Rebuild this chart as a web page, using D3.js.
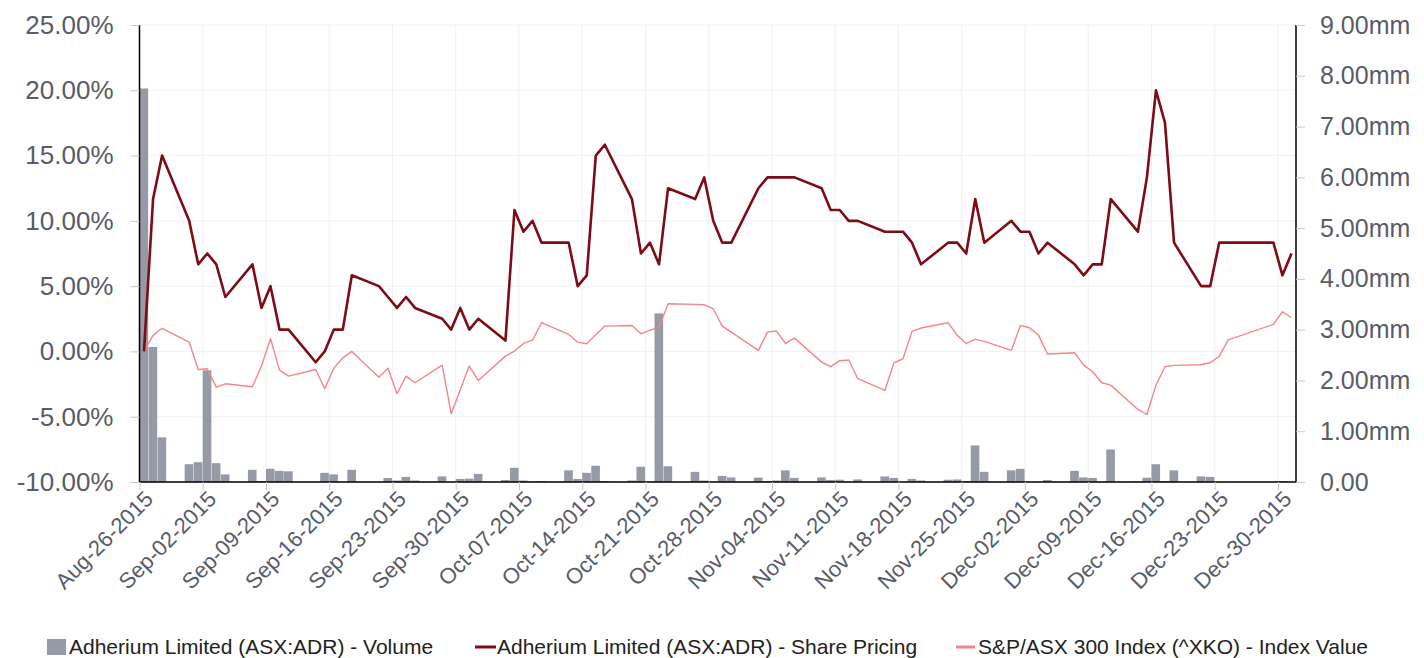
<!DOCTYPE html>
<html>
<head>
<meta charset="utf-8">
<script src="https://cdn.jsdelivr.net/npm/d3@7"></script>
<style>
  body { margin: 0; background: #fff; }
  text { font-family: "Liberation Sans", Arial, sans-serif; }
</style>
</head>
<body>
<div id="main-container"></div>
<script>

// trading days
var dates = [
  "2015-08-26","2015-08-27","2015-08-28","2015-08-31",
  "2015-09-01","2015-09-02","2015-09-03","2015-09-04","2015-09-07","2015-09-08","2015-09-09","2015-09-10","2015-09-11",
  "2015-09-14","2015-09-15","2015-09-16","2015-09-17","2015-09-18","2015-09-21","2015-09-22","2015-09-23","2015-09-24","2015-09-25",
  "2015-09-28","2015-09-29","2015-09-30",
  "2015-10-01","2015-10-02","2015-10-05","2015-10-06","2015-10-07","2015-10-08","2015-10-09","2015-10-12","2015-10-13","2015-10-14",
  "2015-10-15","2015-10-16","2015-10-19","2015-10-20","2015-10-21","2015-10-22","2015-10-23","2015-10-26","2015-10-27","2015-10-28",
  "2015-10-29","2015-10-30",
  "2015-11-02","2015-11-03","2015-11-04","2015-11-05","2015-11-06","2015-11-09","2015-11-10","2015-11-11","2015-11-12","2015-11-13",
  "2015-11-16","2015-11-17","2015-11-18","2015-11-19","2015-11-20","2015-11-23","2015-11-24","2015-11-25","2015-11-26","2015-11-27",
  "2015-11-30",
  "2015-12-01","2015-12-02","2015-12-03","2015-12-04","2015-12-07","2015-12-08","2015-12-09","2015-12-10","2015-12-11","2015-12-14",
  "2015-12-15","2015-12-16","2015-12-17","2015-12-18","2015-12-21","2015-12-22","2015-12-23","2015-12-24","2015-12-29","2015-12-30",
  "2015-12-31"
];

// Adherium share price, % change
var sharePricing = [
  0, 11.67, 15.0, 10.0,
  6.67, 7.5, 6.67, 4.17, 6.67, 3.33, 5.0, 1.67, 1.67,
  -0.83, 0, 1.67, 1.67, 5.83, 5.0, 4.17, 3.33, 4.17, 3.33,
  2.5, 1.67, 3.33,
  1.67, 2.5, 0.83, 10.83, 9.17, 10.0, 8.33, 8.33, 5.0, 5.83,
  15.0, 15.83, 11.67, 7.5, 8.33, 6.67, 12.5, 11.67, 13.33, 10.0,
  8.33, 8.33,
  12.5, 13.33, 13.33, 13.33, 13.33, 12.5, 10.83, 10.83, 10.0, 10.0,
  9.17, 9.17, 9.17, 8.33, 6.67, 8.33, 8.33, 7.5, 11.67, 8.33,
  10.0,
  9.17, 9.17, 7.5, 8.33, 6.67, 5.83, 6.67, 6.67, 11.67, 9.17,
  13.33, 20.0, 17.5, 8.33, 5.0, 5.0, 8.33, 8.33, 8.33, 5.83,
  7.5
];

// S&P/ASX 300, % change
var indexValue = [
  0, 1.23, 1.77, 0.71,
  -1.38, -1.33, -2.73, -2.48, -2.71, -1.12, 0.97, -1.43, -1.89,
  -1.38, -2.86, -1.30, -0.49, 0.0, -1.97, -1.28, -3.24, -1.89, -2.40,
  -1.05, -4.77, -2.94,
  -1.12, -2.22, -0.36, 0.03, 0.61, 0.87, 2.20, 1.30, 0.71, 0.59,
  1.28, 1.94, 1.99, 1.35, 1.63, 1.86, 3.65, 3.60, 3.57, 3.27,
  1.94, 1.48,
  0.08, 1.48, 1.56, 0.61, 1.02, -0.82, -1.17, -0.71, -0.66, -2.09,
  -2.99, -0.87, -0.56, 1.53, 1.79, 2.20, 1.23, 0.61, 0.92, 0.77,
  0.08,
  1.99, 1.81, 1.25, -0.20, -0.10, -1.05, -1.56, -2.40, -2.58, -4.44,
  -4.83, -2.58, -1.17, -1.07, -1.02, -0.87, -0.38, 0.89, 2.07, 3.04,
  2.58
];

// volume, millions
var volume = [
  7.75, 2.66, 0.88, 0.35,
  0.39, 2.2, 0.37, 0.15, 0.24, 0.02, 0.26, 0.22, 0.21,
  0, 0.18, 0.15, 0, 0.24, 0, 0.08, 0.03, 0.1, 0.03,
  0.11, 0, 0.06,
  0.066, 0.16, 0.04, 0.28, 0.03, 0.01, 0.02, 0.23, 0.06, 0.18,
  0.32, 0.02, 0.03, 0.30, 0.01, 3.32, 0.31, 0.2, 0.03, 0,
  0.12, 0.09,
  0.085, 0.02, 0.03, 0.23, 0.08, 0.09, 0.04, 0.045, 0, 0.05,
  0.11, 0.08, 0, 0.06, 0.03, 0.045, 0.05, 0.02, 0.72, 0.2,
  0.23,
  0.26, 0, 0, 0.04, 0.22, 0.09, 0.08, 0, 0.64, 0.01,
  0.085, 0.35, 0.02, 0.23, 0.11, 0.1, 0, 0, 0, 0.02,
  0
];

var pctTicks = [-10, -5, 0, 5, 10, 15, 20, 25];
var volTicks = [0, 1, 2, 3, 4, 5, 6, 7, 8, 9];

var legendLabels = [
  "Adherium Limited (ASX:ADR) - Volume",
  "Adherium Limited (ASX:ADR) - Share Pricing",
  "S&P/ASX 300 Index (^XKO) - Index Value"
];

var width = 1424, height = 658;
var margin = { top: 25, right: 128, bottom: 176, left: 139.5 };
var textColor = "#595c68";
var barColor = "#969aa6";
var shareColor = "#7d0c16";
var indexColor = "#f4868b";

var parse = d3.utcParse("%Y-%m-%d");
var days = dates.map(parse);

var svg = d3.select("#main-container")
            .append("svg")
            .attr("width", width)
            .attr("height", height);

var x = d3.scaleUtc()
          .domain([parse("2015-08-26"), parse("2016-01-01")])
          .range([margin.left, width - margin.right]);

var yPct = d3.scaleLinear().domain([-10, 25]).range([height - margin.bottom, margin.top]);
var yVol = d3.scaleLinear().domain([0, 9]).range([height - margin.bottom, margin.top]);

var xTicks = d3.utcWednesday.range(parse("2015-08-26"), parse("2016-01-01"));
var bottom = height - margin.bottom;

// grid
svg.append("g")
   .selectAll("line.h")
   .data(pctTicks)
   .enter()
   .append("line")
   .attr("x1", margin.left).attr("x2", width - margin.right)
   .attr("y1", function(d) { return yPct(d); })
   .attr("y2", function(d) { return yPct(d); })
   .attr("stroke", "#f1f1f3");

svg.append("g")
   .selectAll("line.v")
   .data(xTicks)
   .enter()
   .append("line")
   .attr("y1", margin.top).attr("y2", bottom)
   .attr("x1", function(d) { return x(d); })
   .attr("x2", function(d) { return x(d); })
   .attr("stroke", "#f1f1f3");

// volume bars
svg.append("g")
   .selectAll("rect")
   .data(days)
   .enter()
   .append("rect")
   .attr("x", function(d) { return x(d); })
   .attr("width", function(d) { return x(d3.utcDay.offset(d, 1)) - x(d) - 0.4; })
   .attr("y", function(d, i) { return yVol(volume[i]); })
   .attr("height", function(d, i) { return bottom - yVol(volume[i]); })
   .attr("fill", barColor);

function mid(d) { return x(d3.utcHour.offset(d, 12)); }

var indexLine = d3.line()
                  .x(function(d) { return mid(d); })
                  .y(function(d, i) { return yPct(indexValue[i]); });
var shareLine = d3.line()
                  .x(function(d) { return mid(d); })
                  .y(function(d, i) { return yPct(sharePricing[i]); });

svg.append("path")
   .datum(days)
   .attr("d", indexLine)
   .attr("fill", "none")
   .attr("stroke", indexColor)
   .attr("stroke-width", 1.4)
   .attr("stroke-linejoin", "round");

svg.append("path")
   .datum(days)
   .attr("d", shareLine)
   .attr("fill", "none")
   .attr("stroke", shareColor)
   .attr("stroke-width", 2.6)
   .attr("stroke-linejoin", "round");

// axes
var leftAxis = d3.axisLeft(yPct)
                 .tickValues(pctTicks)
                 .tickSize(9)
                 .tickPadding(17)
                 .tickFormat(function(d) { return d.toFixed(2) + "%"; });
var rightAxis = d3.axisRight(yVol)
                  .tickValues(volTicks)
                  .tickSize(9)
                  .tickPadding(15)
                  .tickFormat(function(d) { return d === 0 ? "0.00" : d.toFixed(2) + "mm"; });
var bottomAxis = d3.axisBottom(x)
                   .tickValues(xTicks)
                   .tickSize(8)
                   .tickFormat(d3.utcFormat("%b-%d-%Y"));

function styleAxis(g, fs) {
    g.select(".domain").attr("stroke", "#000").attr("stroke-width", 1.5);
    g.selectAll(".tick line").attr("stroke", "#c8c8cc");
    g.selectAll(".tick text")
     .attr("fill", textColor)
     .attr("font-size", fs + "px")
     .attr("font-family", "'Liberation Sans', Arial, sans-serif");
}

var gl = svg.append("g").attr("transform", "translate(" + margin.left + ",0)").call(leftAxis);
styleAxis(gl, 26);
gl.select(".domain").attr("d", "M0," + margin.top + "V" + bottom);

var gr = svg.append("g").attr("transform", "translate(" + (width - margin.right) + ",0)").call(rightAxis);
styleAxis(gr, 25);
gr.select(".domain").attr("d", "M0," + margin.top + "V" + bottom);

var gb = svg.append("g").attr("transform", "translate(0," + bottom + ")").call(bottomAxis);
styleAxis(gb, 22);
gb.select(".domain").attr("d", "M" + margin.left + ",0H" + (width - margin.right));
gb.selectAll(".tick text")
  .attr("text-anchor", "end")
  .attr("dy", "0.35em")
  .attr("transform", "translate(9,13) rotate(-45)")
  .attr("y", 0)
  .attr("x", 0);

// legend
var legend = svg.append("g").attr("transform", "translate(0,647)");
var legendX = [47, 475, 956];

legend.append("rect")
      .attr("x", legendX[0]).attr("y", -8).attr("width", 19).attr("height", 16)
      .attr("fill", barColor);
legend.append("line")
      .attr("x1", legendX[1]).attr("x2", legendX[1] + 21).attr("y1", 0).attr("y2", 0)
      .attr("stroke", shareColor).attr("stroke-width", 3);
legend.append("line")
      .attr("x1", legendX[2]).attr("x2", legendX[2] + 19).attr("y1", 0).attr("y2", 0)
      .attr("stroke", indexColor).attr("stroke-width", 3);

legend.selectAll("text")
      .data(legendLabels)
      .enter()
      .append("text")
      .text(function(d) { return d; })
      .attr("x", function(d, i) { return legendX[i] + (i === 0 ? 22 : 22); })
      .attr("y", 0)
      .attr("dy", "0.35em")
      .attr("font-size", "21px")
      .attr("fill", "#222");
</script>
</body>
</html>
